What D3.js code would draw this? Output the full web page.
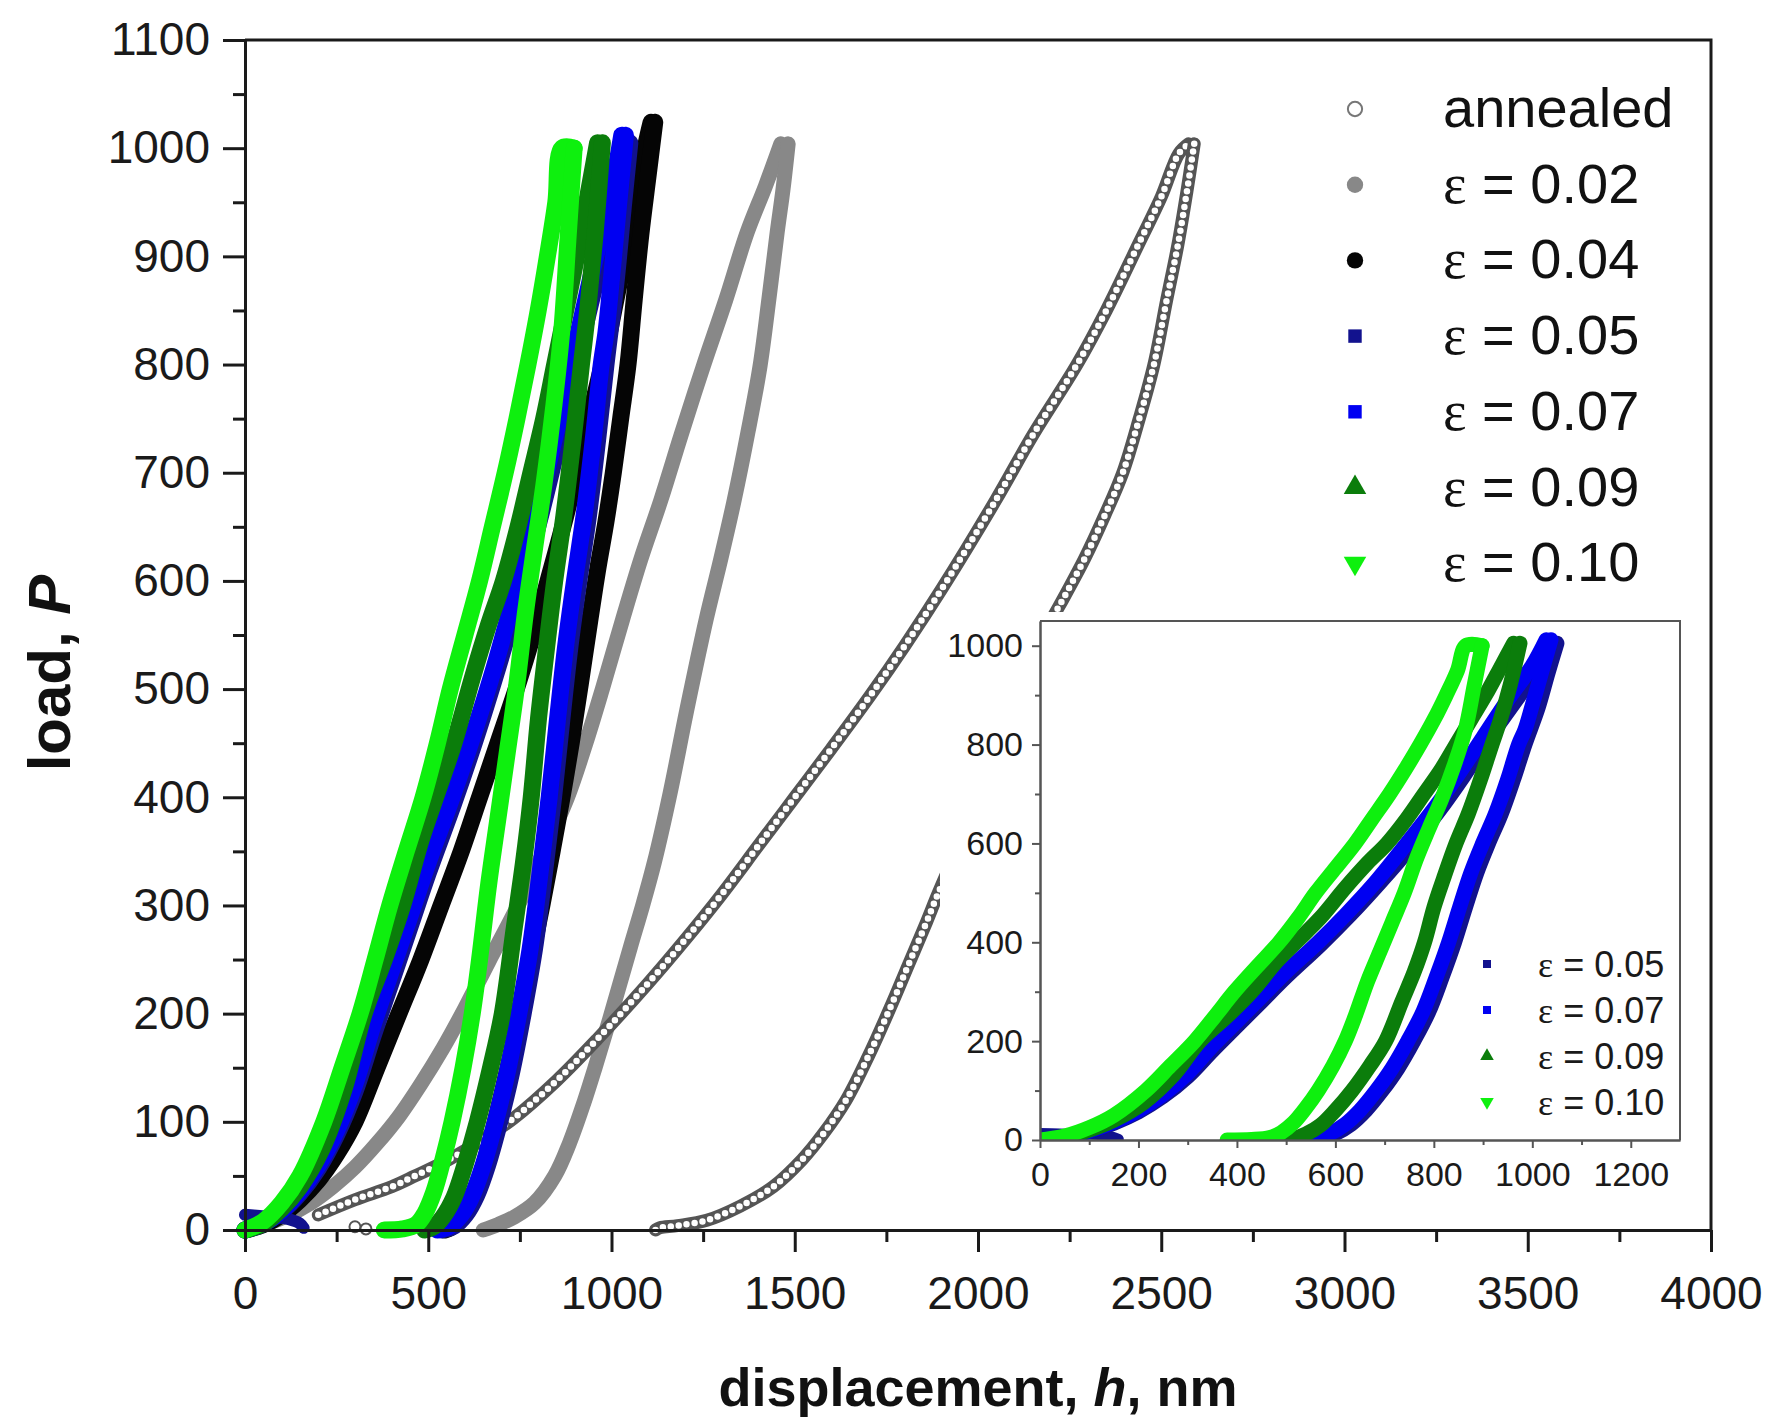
<!DOCTYPE html>
<html>
<head>
<meta charset="utf-8">
<script src="https://cdn.jsdelivr.net/npm/d3@7"></script>
<style>
  html, body { margin: 0; padding: 0; background: #ffffff; }
  svg { display: block; }
  text { white-space: pre; }
</style>
</head>
<body>
<svg id="chart" width="1771" height="1421"></svg>
<script>
// ---- tick values ----
const mainXTicks = [0, 500, 1000, 1500, 2000, 2500, 3000, 3500, 4000];
const mainYTicks = [0, 100, 200, 300, 400, 500, 600, 700, 800, 900, 1000, 1100];
const insetXTicks = [0, 200, 400, 600, 800, 1000, 1200];
const insetYTicks = [0, 200, 400, 600, 800, 1000];

// ---- load–displacement curves: [h (nm), P] ----
const annealedLoad = [[0,0],[100,4],[200,14],[300,28],[400,40],[464,50],[550,64],[650,84],[732,103],[850,138],[960,176],[1097,227],[1200,268],[1300,310],[1400,355],[1500,400],[1600,445],[1706,494],[1800,540],[1900,592],[2049,675],[2150,735],[2270,800],[2350,850],[2439,912],[2500,955],[2548,995],[2575,1004]];
const annealedUnload = [[2590,1004],[2570,960],[2545,910],[2515,860],[2480,800],[2440,750],[2395,700],[2345,660],[2290,620],[2235,585],[2195,560],[2140,515],[2080,465],[2020,415],[1960,365],[1891,311],[1860,285],[1810,245],[1760,205],[1700,160],[1640,120],[1578,89],[1520,65],[1441,40],[1351,22],[1260,9],[1180,4],[1132,2],[1120,0]];
const annealedToe = [[300,3],[330,1]];

const e02Load = [[0,0],[60,6],[120,14],[180,25],[240,40],[300,58],[360,80],[420,105],[480,135],[540,168],[600,205],[665,248],[745,300],[815,350],[880,400],[930,450],[975,500],[1030,564],[1080,620],[1135,675],[1190,735],[1250,798],[1312,860],[1370,922],[1420,965],[1462,1004]];
const e02Unload = [[1482,1004],[1468,962],[1452,922],[1430,862],[1405,798],[1372,737],[1335,675],[1298,620],[1258,564],[1205,480],[1160,404],[1117,340],[1085,300],[1052,262],[995,195],[955,150],[925,118],[885,80],[845,50],[790,25],[735,12],[690,5],[650,0]];

const e04Load = [[0,0],[50,5],[100,14],[150,28],[200,46],[250,70],[300,100],[360,150],[420,200],[480,250],[535,300],[590,350],[640,400],[690,450],[740,500],[790,555],[835,610],[875,660],[915,715],[950,765],[985,815],[1015,865],[1045,915],[1070,960],[1095,1005],[1108,1024]];
const e04Unload = [[1118,1024],[1100,975],[1080,920],[1062,860],[1045,800],[1025,750],[1005,700],[985,655],[962,610],[941,564],[915,505],[890,450],[865,400],[838,350],[810,300],[780,250],[750,200],[718,150],[683,100],[660,70],[635,42],[610,22],[585,9],[560,2],[545,0]];

const e05Toe = [[0,14],[40,13],[80,12],[120,10],[150,6],[160,2]];
const e05Load = [[0,0],[50,6],[100,17],[150,34],[200,57],[250,88],[300,128],[350,180],[400,230],[450,280],[500,330],[570,395],[630,455],[690,520],[755,595],[810,665],[860,735],[910,810],[960,880],[1010,950],[1040,1005]];
const e05Unload = [[1050,1005],[1032,945],[1012,875],[985,800],[962,730],[937,660],[911,600],[887,540],[864,470],[842,400],[817,330],[790,260],[759,200],[727,145],[695,100],[662,60],[632,32],[602,14],[572,4],[537,0]];

const e07Load = [[0,0],[50,6],[100,18],[150,36],[200,60],[250,92],[300,135],[350,190],[400,240],[450,290],[500,340],[565,400],[620,455],[680,520],[745,600],[800,670],[850,740],[900,815],[950,890],[1000,960],[1028,1012]];
const e07Unload = [[1038,1012],[1020,950],[1000,880],[985,830],[972,800],[950,730],[925,660],[899,600],[875,540],[852,470],[830,400],[805,330],[778,260],[747,200],[715,145],[683,100],[650,60],[620,32],[590,14],[560,4],[525,0]];

const e09Load = [[0,0],[50,6],[100,20],[150,40],[210,75],[270,130],[325,200],[380,250],[430,300],[480,360],[520,400],[570,450],[620,510],[665,560],[705,600],[745,650],[780,700],[815,750],[845,800],[875,850],[905,900],[935,955],[962,1005]];
const e09Unload = [[975,1005],[955,920],[935,850],[918,800],[895,730],[870,660],[845,600],[820,530],[800,470],[781,400],[760,340],[735,280],[702,200],[670,150],[634,100],[600,60],[570,30],[540,12],[515,3],[490,0]];

const e10Load = [[0,0],[50,8],[100,25],[150,50],[215,100],[265,150],[314,200],[355,250],[395,300],[440,350],[486,400],[525,450],[560,500],[600,550],[640,600],[675,650],[710,700],[742,750],[772,800],[800,850],[825,900],[848,950],[865,1000],[898,1000]];
const e10Unload = [[898,1000],[882,920],[864,830],[842,760],[816,690],[790,630],[765,570],[740,500],[715,440],[690,380],[665,320],[640,250],[620,200],[595,150],[565,100],[540,65],[515,35],[490,15],[467,5],[430,1],[380,0]];

// ---- legend entries ----
const legendNames = ["annealed", "0.02", "0.04", "0.05", "0.07", "0.09", "0.10"];
const insetLegendNames = ["0.05", "0.07", "0.09", "0.10"];

// ---- styling ----
const colors = {
  annealed: "#555555",
  e02: "#888888",
  e04: "#050505",
  e05: "#12128e",
  e07: "#0000f2",
  e09: "#0b7d0b",
  e10: "#0ef00e"
};
const FONT = "'Liberation Sans', Arial, Helvetica, sans-serif";
const SERIF = "'Liberation Serif', 'Times New Roman', serif";

const svg = d3.select("#chart");
svg.append("rect").attr("width", 1771).attr("height", 1421).attr("fill", "#fff");

// ---- main scales ----
const x = d3.scaleLinear().domain([0, 4000]).range([245, 1711]);
const y = d3.scaleLinear().domain([0, 1100]).range([1230, 40]);

const plot = svg.append("g");
const lineGen = (xs, ys) => d3.line().x(d => xs(d[0])).y(d => ys(d[1])).curve(d3.curveCatmullRom.alpha(0.5));

function band(g, data, xs, ys, color, w) {
  g.append("path").attr("d", lineGen(xs, ys)(data)).attr("fill", "none")
    .attr("stroke", color).attr("stroke-width", w)
    .attr("stroke-linecap", "round").attr("stroke-linejoin", "round");
}

// open-circle chain: gray band with white hollows
function chain(g, data, xs, ys, color, w) {
  const d = lineGen(xs, ys)(data);
  g.append("path").attr("d", d).attr("fill", "none")
    .attr("stroke", color).attr("stroke-width", w)
    .attr("stroke-linecap", "round").attr("stroke-linejoin", "round");
  g.append("path").attr("d", d).attr("fill", "none")
    .attr("stroke", "#fff").attr("stroke-width", w - 6.5)
    .attr("stroke-dasharray", "0 8")
    .attr("stroke-linecap", "round");
}

const BW = 17;
band(plot, e02Load, x, y, colors.e02, 15);
band(plot, e02Unload, x, y, colors.e02, 15);
chain(plot, annealedLoad.slice(2), x, y, colors.annealed, 13);
chain(plot, annealedUnload, x, y, colors.annealed, 13);
plot.selectAll("circle.toe").data(annealedToe).join("circle")
  .attr("cx", d => x(d[0])).attr("cy", d => y(d[1])).attr("r", 5.5)
  .attr("fill", "#fff").attr("stroke", colors.annealed).attr("stroke-width", 2);
band(plot, e04Load, x, y, colors.e04, BW);
band(plot, e04Unload, x, y, colors.e04, BW);
band(plot, e05Toe, x, y, colors.e05, 12);
band(plot, e05Load, x, y, colors.e05, BW);
band(plot, e05Unload, x, y, colors.e05, BW);
band(plot, e07Load, x, y, colors.e07, BW);
band(plot, e07Unload, x, y, colors.e07, BW);
band(plot, e09Load, x, y, colors.e09, BW);
band(plot, e09Unload, x, y, colors.e09, BW);
band(plot, e10Load, x, y, colors.e10, BW);
band(plot, e10Unload, x, y, colors.e10, BW);

// ---- main axes ----
const AX = "#1a1a1a";
function styleAxis(g, fs) {
  g.selectAll("path.domain").attr("stroke", AX).attr("stroke-width", 3);
  g.selectAll(".tick line").attr("stroke", AX).attr("stroke-width", 3);
  g.selectAll("text").attr("font-family", FONT).attr("font-size", fs).attr("fill", AX);
}
const minorX = d3.range(250, 4000, 500);
const minorY = d3.range(50, 1100, 100);

const gxMinor = svg.append("g").attr("transform", "translate(0,1230)")
  .call(d3.axisBottom(x).tickValues(minorX).tickSize(12).tickFormat("").tickSizeOuter(0));
styleAxis(gxMinor, 46);
const gyMinor = svg.append("g").attr("transform", "translate(245,0)")
  .call(d3.axisLeft(y).tickValues(minorY).tickSize(12).tickFormat("").tickSizeOuter(0));
styleAxis(gyMinor, 46);

const gx = svg.append("g").attr("transform", "translate(0,1230)")
  .call(d3.axisBottom(x).tickValues(mainXTicks).tickSize(22).tickPadding(24).tickSizeOuter(0).tickFormat(d3.format("d")));
styleAxis(gx, 46);
const gy = svg.append("g").attr("transform", "translate(245,0)")
  .call(d3.axisLeft(y).tickValues(mainYTicks).tickSize(22).tickPadding(13).tickSizeOuter(0).tickFormat(d3.format("d")));
styleAxis(gy, 46);

// top and right frame
svg.append("path")
  .attr("d", `M${x(0)},${y(1100)}H${x(4000)}V${y(0)}`)
  .attr("fill", "none").attr("stroke", AX).attr("stroke-width", 3);

// axis titles
const xt = svg.append("text").attr("x", (x(0) + x(4000)) / 2).attr("y", 1406)
  .attr("text-anchor", "middle").attr("font-family", FONT).attr("font-size", 54)
  .attr("font-weight", "bold").attr("fill", "#111");
xt.append("tspan").text("displacement, ");
xt.append("tspan").attr("font-style", "italic").text("h");
xt.append("tspan").text(", nm");

const yt = svg.append("text").attr("transform", "translate(70,673) rotate(-90)")
  .attr("text-anchor", "middle").attr("font-family", FONT).attr("font-size", 60)
  .attr("font-weight", "bold").attr("fill", "#111");
yt.append("tspan").text("load, ");
yt.append("tspan").attr("font-style", "italic").text("P");

// ---- main legend ----
const legendKeys = ["annealed", "e02", "e04", "e05", "e07", "e09", "e10"];
const legendShapes = [d3.symbolCircle, d3.symbolCircle, d3.symbolCircle, d3.symbolSquare, d3.symbolSquare, d3.symbolTriangle, d3.symbolTriangle];
const legendSizes = [160, 210, 210, 180, 180, 220, 220];

function drawSymbol(g, i, cx, cy, scale) {
  const key = legendKeys[i];
  const p = g.append("path")
    .attr("d", d3.symbol().type(legendShapes[i]).size(legendSizes[i] * scale * scale)())
    .attr("transform", `translate(${cx},${cy})` + (key === "e10" ? " rotate(180)" : ""));
  if (key === "annealed") {
    p.attr("fill", "#fff").attr("stroke", "#777").attr("stroke-width", 2);
  } else {
    p.attr("fill", colors[key]);
  }
}

const leg = svg.append("g");
legendNames.forEach((name, i) => {
  const base = 127 + i * 75.7;
  drawSymbol(leg, i, 1355, base - 18, 1);
  const t = leg.append("text").attr("x", 1443).attr("y", base)
    .attr("font-family", FONT).attr("font-size", 56).attr("fill", "#111");
  if (i === 0) {
    t.text(name);
  } else {
    t.append("tspan").attr("font-family", SERIF).text("ε");
    t.append("tspan").text(" = " + name);
  }
});

// ---- inset ----
const ix = d3.scaleLinear().domain([0, 1300]).range([1040, 1680]);
const iy = d3.scaleLinear().domain([0, 1050]).range([1140, 621]);

svg.append("rect").attr("x", 940).attr("y", 612).attr("width", 758).attr("height", 592).attr("fill", "#fff");

const inset = svg.append("g");
const clipId = "insetClip";
svg.append("defs").append("clipPath").attr("id", clipId)
  .append("rect").attr("x", ix(0)).attr("y", iy(1050)).attr("width", ix(1300) - ix(0)).attr("height", iy(0) - iy(1050));
const ip = inset.append("g").attr("clip-path", `url(#${clipId})`);
const IBW = 15;
band(ip, e05Toe, ix, iy, colors.e05, 10);
band(ip, e05Load, ix, iy, colors.e05, IBW);
band(ip, e05Unload, ix, iy, colors.e05, IBW);
band(ip, e07Load, ix, iy, colors.e07, IBW);
band(ip, e07Unload, ix, iy, colors.e07, IBW);
band(ip, e09Load, ix, iy, colors.e09, IBW);
band(ip, e09Unload, ix, iy, colors.e09, IBW);
band(ip, e10Load, ix, iy, colors.e10, IBW);
band(ip, e10Unload, ix, iy, colors.e10, IBW);

const IAX = "#555";
function styleInsetAxis(g) {
  g.selectAll("path.domain").attr("stroke", IAX).attr("stroke-width", 2);
  g.selectAll(".tick line").attr("stroke", IAX).attr("stroke-width", 2);
  g.selectAll("text").attr("font-family", FONT).attr("font-size", 34).attr("fill", "#1a1a1a");
}
const igxMinor = inset.append("g").attr("transform", `translate(0,${iy(0)})`)
  .call(d3.axisBottom(ix).tickValues(d3.range(100, 1300, 200)).tickSize(5).tickFormat("").tickSizeOuter(0));
styleInsetAxis(igxMinor);
const igyMinor = inset.append("g").attr("transform", `translate(${ix(0)},0)`)
  .call(d3.axisLeft(iy).tickValues(d3.range(100, 1050, 200)).tickSize(5).tickFormat("").tickSizeOuter(0));
styleInsetAxis(igyMinor);
const igx = inset.append("g").attr("transform", `translate(0,${iy(0)})`)
  .call(d3.axisBottom(ix).tickValues(insetXTicks).tickSize(8).tickPadding(14).tickSizeOuter(0).tickFormat(d3.format("d")));
styleInsetAxis(igx);
const igy = inset.append("g").attr("transform", `translate(${ix(0)},0)`)
  .call(d3.axisLeft(iy).tickValues(insetYTicks).tickSize(8).tickPadding(9).tickSizeOuter(0).tickFormat(d3.format("d")));
styleInsetAxis(igy);
inset.append("path")
  .attr("d", `M${ix(0)},${iy(1050)}H${ix(1300)}V${iy(0)}`)
  .attr("fill", "none").attr("stroke", IAX).attr("stroke-width", 2);

// inset legend
insetLegendNames.forEach((name, i) => {
  const cy = 964 + i * 46;
  drawSymbol(inset, i + 3, 1487, cy, 0.6);
  const t = inset.append("text").attr("x", 1538).attr("y", cy + 12.5)
    .attr("font-family", FONT).attr("font-size", 36).attr("fill", "#1a1a1a");
  t.append("tspan").attr("font-family", SERIF).text("ε");
  t.append("tspan").text(" = " + name);
});
</script>
</body>
</html>
